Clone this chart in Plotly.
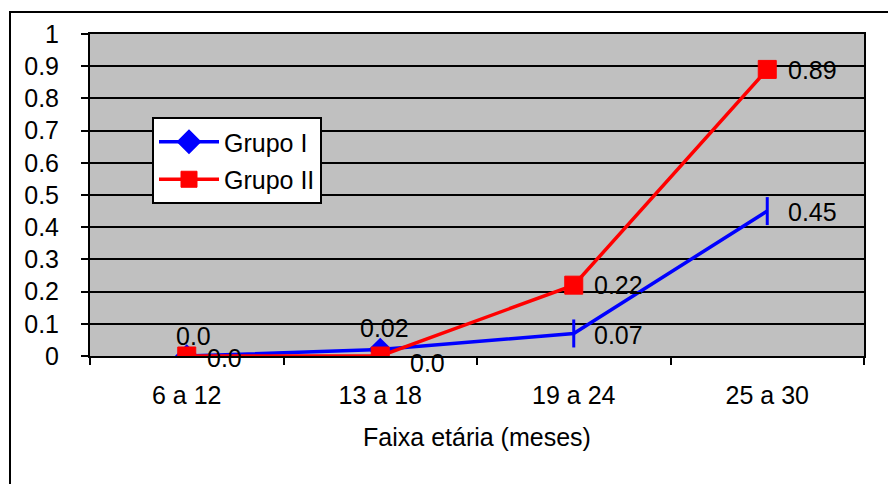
import plotly.graph_objects as go

# Age bands (months) and the proportion for each group
faixas = ["6 a 12", "13 a 18", "19 a 24", "25 a 30"]
grupo_i = [0.0, 0.02, 0.07, 0.45]
grupo_ii = [0.0, 0.0, 0.22, 0.89]
y_ticks = [0, 0.1, 0.2, 0.3, 0.4, 0.5, 0.6, 0.7, 0.8, 0.9, 1]


def rotulo(v):
    return "0.0" if v == 0 else f"{v:.2f}"


FONT = "Liberation Sans, Arial, sans-serif"
FS = 25

fig = go.Figure()
fig.add_trace(go.Scatter(
    x=faixas, y=grupo_i, name="Grupo I", mode="lines+markers",
    line=dict(color="#0000FF", width=3.5),
    marker=dict(color="#0000FF", size=[15, 15, 20, 20], opacity=1,
                symbol=["diamond", "diamond", "line-ns", "line-ns"],
                line=dict(color="#0000FF", width=3)),
    legendgroup="g1",
))
fig.add_trace(go.Scatter(
    x=faixas, y=grupo_ii, name="Grupo II", mode="lines+markers",
    line=dict(color="#FF0000", width=3.5),
    marker=dict(color="#FF0000", size=18, symbol="square", opacity=1,
                line=dict(color="#FF0000", width=1)),
    legendgroup="g2",
))

# Value labels placed next to each point
offsets_i = [(7, 20), (4, 22), (45, -2), (45, -1)]
offsets_ii = [(38, -2), (47, -7), (45, 0), (45, -1)]
for serie, offs in ((grupo_i, offsets_i), (grupo_ii, offsets_ii)):
    for cat, v, (dx, dy) in zip(faixas, serie, offs):
        fig.add_annotation(x=cat, y=v, text=rotulo(v), showarrow=False,
                           xshift=dx, yshift=dy,
                           font=dict(family=FONT, size=FS, color="black"))

# Outer chart frame
fig.add_shape(type="rect", xref="paper", yref="paper",
              x0=(10 - 90) / 774, x1=1.2, y0=-0.5, y1=(356 - 12) / 322,
              line=dict(color="black", width=2), fillcolor="rgba(0,0,0,0)",
              layer="below")

fig.update_layout(
    width=888, height=484,
    margin=dict(l=90, r=24, t=34, b=128),
    paper_bgcolor="white", plot_bgcolor="#C0C0C0",
    font=dict(family=FONT, size=FS, color="black"),
    showlegend=True,
    legend=dict(x=(152 - 90) / 774, y=(356 - 117) / 322,
                xanchor="left", yanchor="top",
                bgcolor="white", bordercolor="black", borderwidth=2,
                font=dict(family=FONT, size=FS, color="black"),
                traceorder="grouped", tracegroupgap=2,
                itemwidth=60),
    xaxis=dict(
        type="category", range=[-0.5, 3.5],
        showline=True, linecolor="black", linewidth=2, mirror=True,
        ticks="outside", tickson="boundaries", ticklen=7, tickwidth=1.5,
        tickcolor="black", showgrid=False, ticklabelstandoff=16,
        title=dict(text="Faixa etária (meses)", standoff=20,
                   font=dict(family=FONT, size=FS)),
    ),
    yaxis=dict(
        range=[0, 1], tickvals=y_ticks,
        showline=True, linecolor="black", linewidth=2, mirror=True,
        ticks="outside", ticklen=7, tickwidth=1.5, tickcolor="black",
        showgrid=True, gridcolor="black", gridwidth=1.5, zeroline=False,
        ticklabelstandoff=17,
    ),
)

fig.write_html("out.html")
